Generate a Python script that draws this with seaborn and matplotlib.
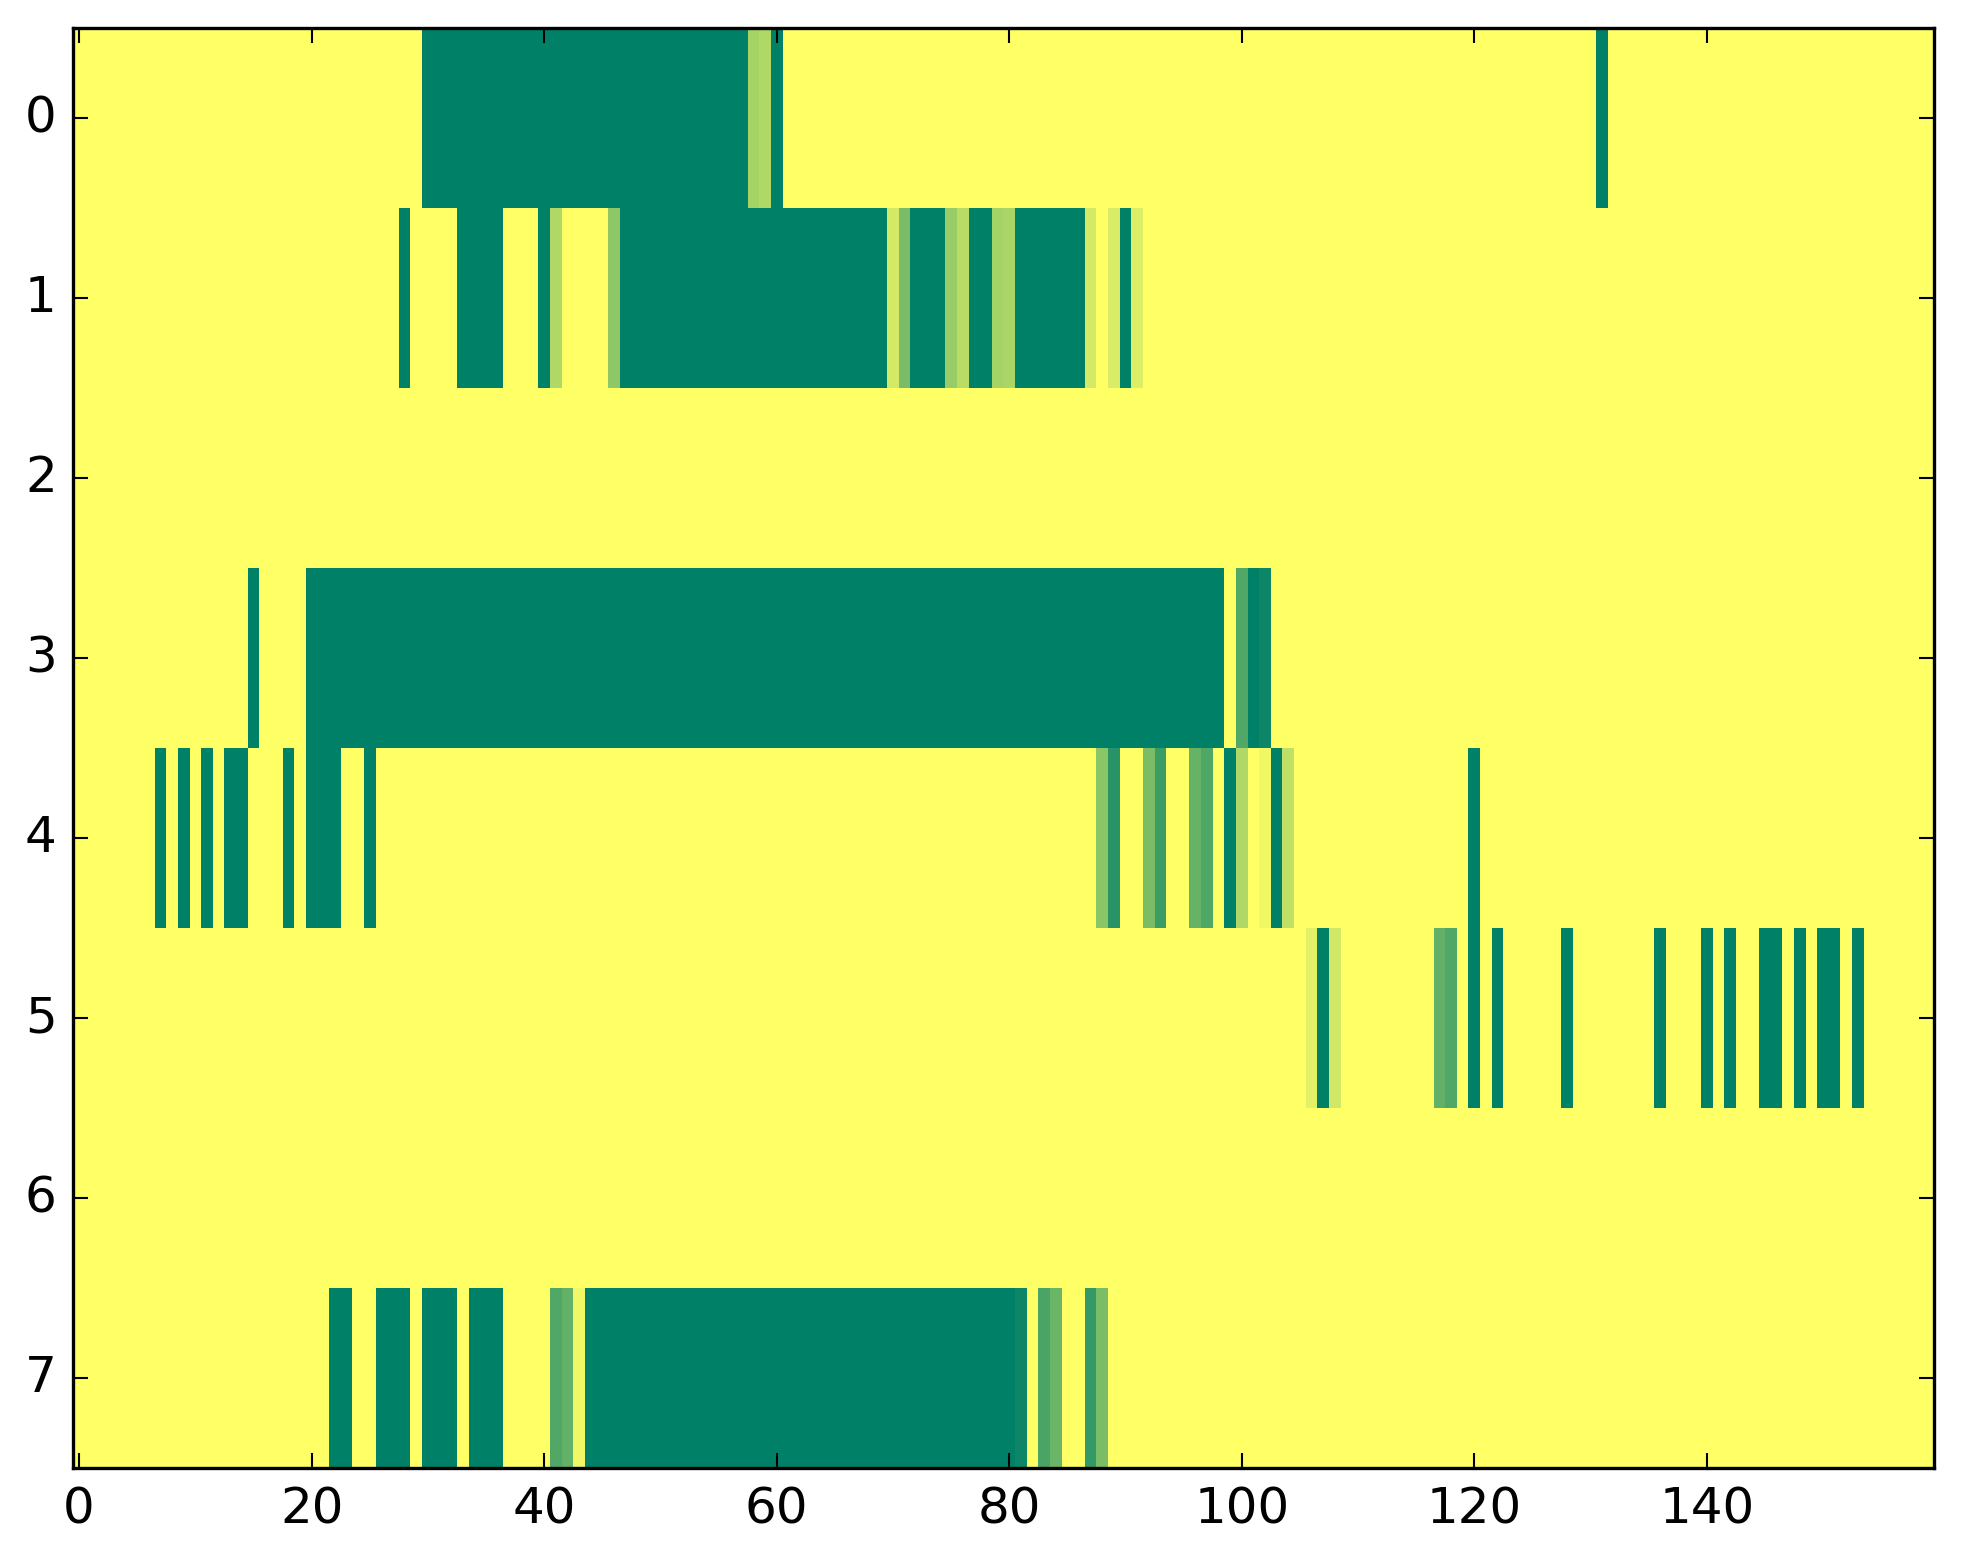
import numpy as np
import matplotlib
matplotlib.use("Agg")
import matplotlib.pyplot as plt
import seaborn as sns

# ---- data: 8 rows x 160 columns, values in [0, 1] (summer_r colormap) ----
row0 = [0]*30 + [1]*28 + [0.35, 0.31, 1] + [0]*70 + [1] + [0]*28
row1 = ([0]*28 + [1] + [0]*4 + [1]*4 + [0]*3 + [1, 0.31] + [0]*4 + [0.44]
        + [1]*23 + [0.17, 0.52] + [1]*3 + [0.40, 0.28] + [1]*2 + [0.35, 0.33]
        + [1]*6 + [0.17, 0, 0.15, 1, 0.14] + [0]*68)
row2 = [0]*160
row3 = [0]*15 + [1] + [0]*4 + [1]*79 + [0, 0.68, 1, 0.95] + [0]*57
row4 = ([0]*7 + [1, 0, 1, 0, 1, 0] + [1]*2 + [0]*3 + [1, 0] + [1]*3 + [0]*2 + [1]
        + [0]*62 + [0.46, 0.84] + [0]*2 + [0.52, 0.77] + [0]*2
        + [0.60, 0.69, 0, 1, 0.31, 0, 0.06, 1, 0.25] + [0]*15 + [1] + [0]*39)
row5 = ([0]*106 + [0.11, 1, 0.18] + [0]*8 + [0.61, 0.68, 0, 1, 0, 1] + [0]*5 + [1]
        + [0]*7 + [1] + [0]*3 + [1, 0, 1] + [0]*2 + [1]*2 + [0, 1, 0] + [1]*2
        + [0, 1] + [0]*6)
row6 = [0]*160
row7 = ([0]*22 + [1]*2 + [0]*2 + [1]*3 + [0] + [1]*3 + [0] + [1]*3 + [0]*4
        + [0.68, 0.61, 0.06] + [1]*37 + [0.95, 0, 0.71, 0.58] + [0]*2
        + [0.80, 0.52] + [0]*71)

rows = [row0, row1, row2, row3, row4, row5, row6, row7]
row_labels = ["0", "1", "2", "3", "4", "5", "6", "7"]
x_tick_values = [0, 20, 40, 60, 80, 100, 120, 140]

data = np.array(rows, dtype=float)

# ---- figure ----
W, H, DPI = 1963, 1564, 300
fig = plt.figure(figsize=(W / DPI, H / DPI), dpi=DPI)
ax = fig.add_axes([73.3 / W, (H - 1468.5) / H, 1860.2 / W, 1440 / H])

sns.heatmap(data, cmap="summer_r", vmin=0, vmax=1, cbar=False, ax=ax,
            linewidths=0, rasterized=True)

ax.set_xticks(np.array(x_tick_values) + 0.5)
ax.set_xticklabels([str(v) for v in x_tick_values], rotation=0, fontsize=12,
                   family="DejaVu Sans")
ax.set_yticks(np.arange(len(row_labels)) + 0.5)
ax.set_yticklabels(row_labels, rotation=0, fontsize=12, va="center",
                   family="DejaVu Sans")

for s in ax.spines.values():
    s.set_visible(True)
    s.set_linewidth(0.8)
    s.set_color("black")

ax.tick_params(axis="both", which="major", direction="in", length=3.5,
               width=0.5, color="black", top=True, right=True,
               bottom=True, left=True, pad=4, labelsize=12)

fig.savefig("out.png", dpi=DPI)
